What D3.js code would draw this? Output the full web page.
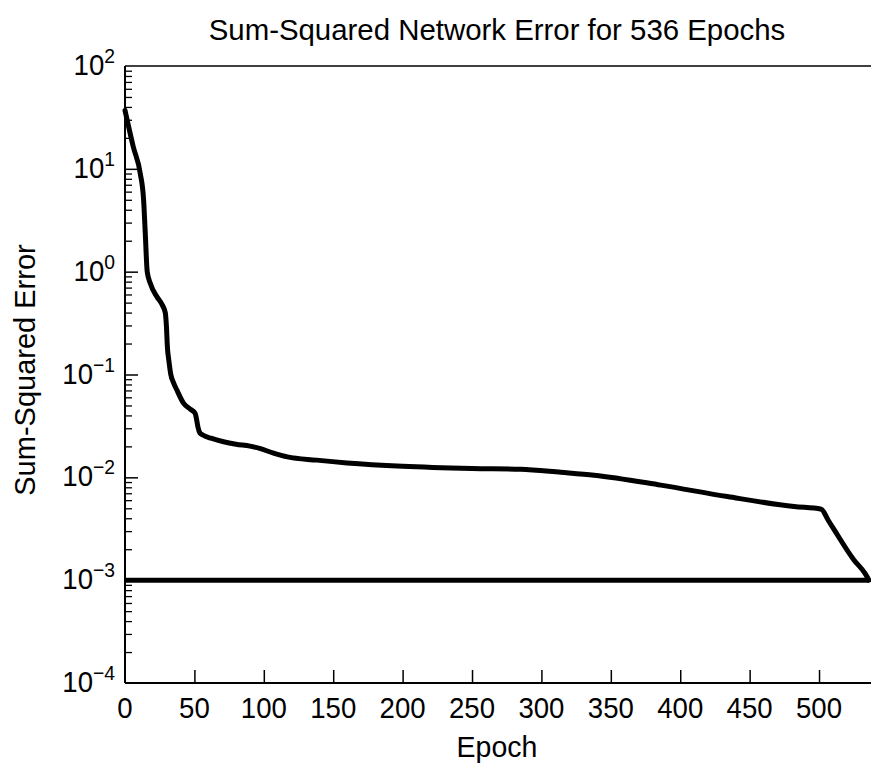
<!DOCTYPE html>
<html><head><meta charset="utf-8">
<script src="https://cdn.jsdelivr.net/npm/d3@7"></script>
<style>body{margin:0;background:#fff}svg{display:block}</style>
</head><body>
<svg id="c" width="871" height="769"></svg>
<script>
// ---- data ----
const epochs = [0, 6, 11, 13.4, 14.6, 16, 18.2, 23, 27, 29, 29.8, 30.6, 31.5, 33, 35, 37.5, 42, 47, 50.5, 51.5, 52.5, 54, 56, 62, 71, 80, 90, 97, 107, 117, 138, 160, 200, 250, 285, 314, 338, 386, 434, 482, 501.6, 506.5, 511, 525, 533, 536];
const errors = [37, 16.3, 9.0, 5.0, 2.37, 1.0, 0.77, 0.57, 0.47, 0.40, 0.30, 0.18, 0.14, 0.10, 0.083, 0.07, 0.053, 0.046, 0.042, 0.037, 0.031, 0.027, 0.0258, 0.024, 0.0222, 0.021, 0.0201, 0.0191, 0.0172, 0.0158, 0.0147, 0.0138, 0.0128, 0.0122, 0.0120, 0.0112, 0.0105, 0.0084, 0.0065, 0.0052, 0.0049, 0.00385, 0.00308, 0.00158, 0.00117, 0.001];
const goalEpochs = [0, 536];
const goalValues = [0.001, 0.001];
const xTicks = [0, 50, 100, 150, 200, 250, 300, 350, 400, 450, 500];
const yTicks = [1e-4, 1e-3, 1e-2, 1e-1, 1e0, 1e1, 1e2];
const yExponents = ["\u22124", "\u22123", "\u22122", "\u22121", "0", "1", "2"];
const titleText = "Sum-Squared Network Error for 536 Epochs";
const xLabel = "Epoch";
const yLabel = "Sum-Squared Error";

// ---- layout ----
const L = 125, R = 869, T = 66, B = 683;
const FONT = "'Liberation Sans', Arial, Helvetica, sans-serif";
const SX = 0.92;

const svg = d3.select("#c");
const x = d3.scaleLinear().domain([0, 536]).range([L, R]);
const y = d3.scaleLog().domain([1e-4, 1e2]).range([B, T]);

// frame: left, bottom, top
svg.append("line").attr("x1", L).attr("x2", L).attr("y1", T).attr("y2", B).attr("stroke", "#000").attr("stroke-width", 2);
svg.append("line").attr("x1", L).attr("x2", 871).attr("y1", B).attr("y2", B).attr("stroke", "#000").attr("stroke-width", 2);
svg.append("line").attr("x1", L).attr("x2", 871).attr("y1", T).attr("y2", T).attr("stroke", "#000").attr("stroke-width", 1.5);

// x ticks (inward) via axis
const xAxis = d3.axisTop(x).tickValues(xTicks.filter(d => d > 0)).tickSize(13).tickFormat("");
const gx = svg.append("g").attr("transform", `translate(0,${B})`).call(xAxis);
gx.select(".domain").remove();
gx.selectAll(".tick line").attr("stroke", "#000").attr("stroke-width", 1.5);

// y ticks major + minor (inward)
const minor = [];
for (let k = -4; k < 2; k++) for (let m = 2; m <= 9; m++) minor.push(m * Math.pow(10, k));
const gyMinor = svg.append("g").attr("transform", `translate(${L},0)`)
  .call(d3.axisRight(y).tickValues(minor).tickSize(7).tickFormat(""));
gyMinor.select(".domain").remove();
gyMinor.selectAll(".tick line").attr("stroke", "#000").attr("stroke-width", 1.3);
const gyMajor = svg.append("g").attr("transform", `translate(${L},0)`)
  .call(d3.axisRight(y).tickValues(yTicks.slice(1, -1)).tickSize(13).tickFormat(""));
gyMajor.select(".domain").remove();
gyMajor.selectAll(".tick line").attr("stroke", "#000").attr("stroke-width", 1.5);

// x tick labels
xTicks.forEach(t => {
  svg.append("g").attr("transform", `translate(${x(t)},718) scale(${SX},1)`)
    .append("text").attr("text-anchor", "middle").attr("font-family", FONT)
    .attr("font-size", 30).attr("fill", "#000").text(t);
});

// y tick labels 10^k
yTicks.forEach((t, i) => {
  const txt = svg.append("g").attr("transform", `translate(115,${y(t) + 9}) scale(${SX},1)`)
    .append("text").attr("text-anchor", "end").attr("font-family", FONT).attr("fill", "#000");
  txt.append("tspan").attr("font-size", 30).text("10");
  txt.append("tspan").attr("font-size", 21).attr("dy", -12).text(yExponents[i]);
});

// goal line
const line = d3.line().x(d => x(d[0])).y(d => y(d[1]));
svg.append("path").datum(goalEpochs.map((e, i) => [e, goalValues[i]]))
  .attr("d", line).attr("fill", "none").attr("stroke", "#000").attr("stroke-width", 5);

// error curve
const curve = d3.line().x(d => x(d[0])).y(d => y(d[1])).curve(d3.curveMonotoneX);
svg.append("path").datum(epochs.map((e, i) => [e, errors[i]]))
  .attr("d", curve).attr("fill", "none").attr("stroke", "#000").attr("stroke-width", 5)
  .attr("stroke-linejoin", "round").attr("stroke-linecap", "round");

// title
svg.append("g").attr("transform", `translate(${(L + R) / 2},40) scale(0.98,1)`)
  .append("text").attr("text-anchor", "middle").attr("font-family", FONT)
  .attr("font-size", 30).attr("fill", "#000").text(titleText);

// x label
svg.append("g").attr("transform", `translate(${(L + R) / 2},757) scale(0.95,1)`)
  .append("text").attr("text-anchor", "middle").attr("font-family", FONT)
  .attr("font-size", 30).attr("fill", "#000").text(xLabel);

// y label
svg.append("g").attr("transform", `translate(35,370) rotate(-90)`)
  .append("text").attr("text-anchor", "middle").attr("font-family", FONT)
  .attr("font-size", 29).attr("fill", "#000").text(yLabel);
</script>
</body></html>
